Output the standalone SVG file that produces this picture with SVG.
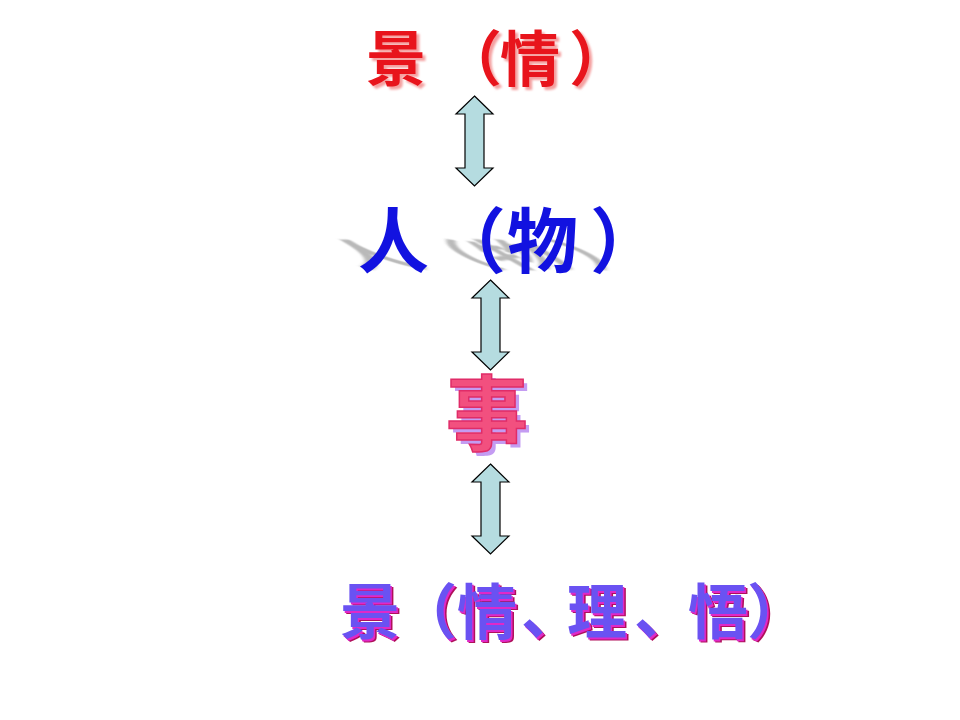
<svg xmlns="http://www.w3.org/2000/svg" xmlns:xlink="http://www.w3.org/1999/xlink" width="960" height="720" viewBox="0 0 960 720">
<style>
.t{font-family:"Noto Sans CJK SC","Noto Sans CJK JP",sans-serif;font-weight:bold}
.arr{fill:#b5dce0;stroke:#000;stroke-width:1.2;stroke-linejoin:miter}
</style>
<defs>
<path id="dblarrow" d="M0,0 L18.5,18 L9.5,18 L9.5,72 L18.5,72 L0,90 L-18.5,72 L-9.5,72 L-9.5,18 L-18.5,18 Z"/>
<filter id="blur" x="-10%" y="-50%" width="120%" height="200%"><feGaussianBlur stdDeviation="1.6"/></filter>
<filter id="soft" x="-10%" y="-10%" width="120%" height="120%"><feGaussianBlur stdDeviation="1"/></filter>
</defs>
<rect width="960" height="720" fill="#fff"/>

<g id="node-jing-qing">
<text class="t" font-size="60" fill="#f4a0a0" filter="url(#soft)" x="369 445 503 572" y="84">景（情）</text>
<text class="t" font-size="60" fill="#e8141c" x="366 442 500 569" y="81">景（情）</text>
</g>

<g id="node-ren-wu">
<text class="t" font-size="71" fill="#a8a8a8" opacity="0.8" filter="url(#blur)" transform="matrix(1 0 0.81 0.46 -216.3 144.2)" x="358 435 507 590" y="267">人（物）</text>
<text class="t" font-size="71" fill="#1212e0" x="358 435 507 590" y="267">人（物）</text>
</g>

<g id="node-shi">
<text class="t" font-size="82" fill="#c49cf2" x="450" y="448">事</text>
<text class="t" font-size="82" fill="#f2507f" stroke="#e02c68" stroke-width="1.5" x="446" y="444">事</text>
</g>

<g id="node-jing-qing-li-wu">
<text class="t" font-size="60" fill="#b0105a" x="343 400 460 524 570 637 691 750" y="637">景（情、理、悟）</text>
<text class="t" font-size="60" fill="#e028c8" x="341.5 398.5 458.5 522.5 568.5 635.5 689.5 748.5" y="635.5">景（情、理、悟）</text>
<text class="t" font-size="60" fill="#6a52f2" x="340 397 457 521 567 634 688 747" y="634">景（情、理、悟）</text>
</g>

<g id="connectors">
<use xlink:href="#dblarrow" class="arr" transform="translate(474.5,96)"/>
<use xlink:href="#dblarrow" class="arr" transform="translate(490.5,280)"/>
<use xlink:href="#dblarrow" class="arr" transform="translate(490.5,464)"/>
</g>
</svg>
